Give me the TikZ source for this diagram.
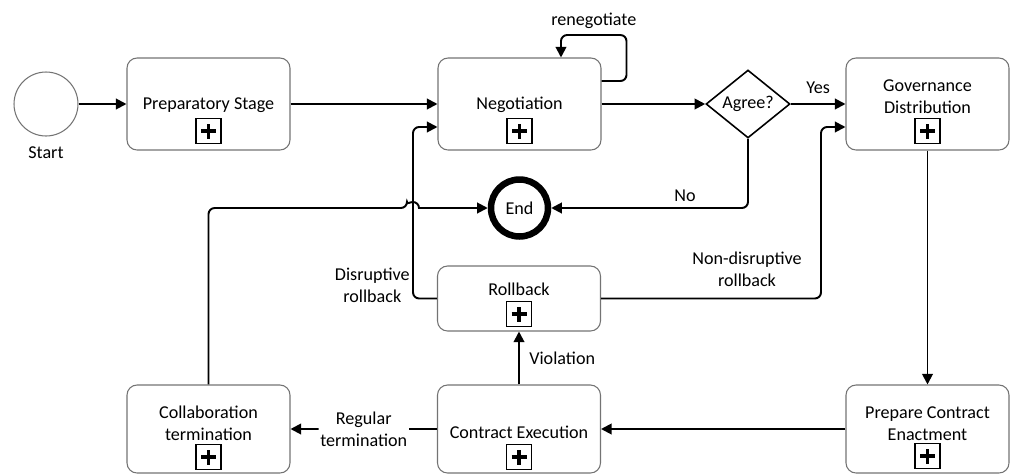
\documentclass[tikz,border=0pt]{standalone}
\usepackage{fontspec}
\setmainfont{Carlito}
\usetikzlibrary{arrows.meta,shapes.geometric}

\begin{document}
\begin{tikzpicture}[x=0.02cm, y=-0.02cm,
	font=\fontsize{10.3}{12.5}\selectfont,
	task/.style={draw=black!55, line width=.6pt, rounded corners=.2cm, minimum width=3.26cm, minimum height=1.84cm, inner sep=0pt},
	lbl/.style={align=center, inner sep=1pt},
	plusbox/.style={draw, line width=.8pt, minimum size=.5cm, inner sep=0pt,
		path picture={\draw[line width=2.2pt] ([xshift=-.15cm]path picture bounding box.center) -- ([xshift=.15cm]path picture bounding box.center)
			([yshift=-.15cm]path picture bounding box.center) -- ([yshift=.15cm]path picture bounding box.center);}},
	flow/.style={line width=1.1pt, -{Triangle[length=6pt,width=6pt]}, rounded corners=3.5pt}]
	
	\useasboundingbox (0,0) rectangle (1015,474);
	
	% events, gateway and sub-processes
	\node[circle, draw=black!55, line width=.6pt, minimum size=1.28cm, label={[name=start-l, label distance=.08cm]below:Start}] (start) at (46,104) {};
	\node[task] (prep) at (208.5,104) {};
	\node[lbl] (prep-t) at (208.5,105) {Preparatory Stage};
	\node[task] (nego) at (519.5,104) {};
	\node[lbl] (nego-t) at (519.5,105) {Negotiation};
	\node[diamond, draw, line width=.9pt, minimum width=1.68cm, minimum height=1.36cm, inner sep=0pt] (agree) at (748,104) {Agree?};
	\node[task] (gov) at (927.5,104) {};
	\node[lbl] (gov-t) at (927.5,97) {Governance\\Distribution};
	\node[circle, draw, line width=3.7pt, minimum size=1.14cm, inner sep=0pt] (end) at (519.5,208) {End};
	\node[task, minimum height=1.3cm] (rollback) at (519,298.5) {};
	\node[lbl] (rollback-t) at (519,289) {Rollback};
	\node[task, minimum height=1.76cm] (collab) at (208.5,429) {};
	\node[lbl] (collab-t) at (208.5,423.5) {Collaboration\\termination};
	\node[task, minimum height=1.76cm] (exec) at (519,429) {};
	\node[lbl] (exec-t) at (519,432) {Contract Execution};
	\node[task, minimum height=1.76cm] (enact) at (927.5,429) {};
	\node[lbl] (enact-t) at (927.5,424) {Prepare Contract\\Enactment};
	
	\foreach \n/\x/\y in {prep/208.5/131, nego/519.5/131, gov/927.5/131, rollback/519/314, collab/208.5/457, exec/519/457, enact/927.5/456}
		\node[plusbox] (\n-m) at (\x,\y) {};
	
	\coordinate (disr) at (413,298.5);
	\coordinate (ndisr) at (821,298.5);
	\coordinate (hop) at (disr |- end);
	
	% flows
	\draw[flow] (start) -- (prep);
	\draw[flow] (prep) -- (nego);
	\draw[flow] (nego) -- (agree);
	\draw[flow] (agree) -- node[above=2pt] (yes-l) {Yes} (gov);
	\draw[flow] ([yshift=.46cm]nego.east) -| ++(25,-46) -| node[pos=.25, above] (reneg-l) {renegotiate} ([xshift=.83cm]nego.north);
	\draw[flow] (agree.south) |- node[pos=.66, above] (no-l) {No} (end);
	\draw[flow] (rollback) -- (disr) |- ([yshift=-.46cm]nego.west);
	\node[lbl, anchor=east] (disr-l) at ([xshift=-.025cm, yshift=.26cm]disr) {Disruptive\\rollback};
	\draw[flow] (rollback) -- (ndisr) |- ([yshift=-.46cm]gov.west);
	\node[lbl] (ndisr-l) at (747,269) {Non-disruptive\\rollback};
	\draw[flow] (gov) -- (enact);
	\draw[flow] (enact) -- (exec);
	\draw[flow] (exec) -- node[lbl, fill=white] (reg-l) {Regular\\termination} (collab);
	\draw[flow] (exec) -- node[right=2pt] (viol-l) {Violation} (rollback);
	\draw[flow] (collab) |- ([xshift=-.12cm]hop) [sharp corners] arc[start angle=180, end angle=0, radius=.12cm] -- (end);
	
\end{tikzpicture}
\end{document}
